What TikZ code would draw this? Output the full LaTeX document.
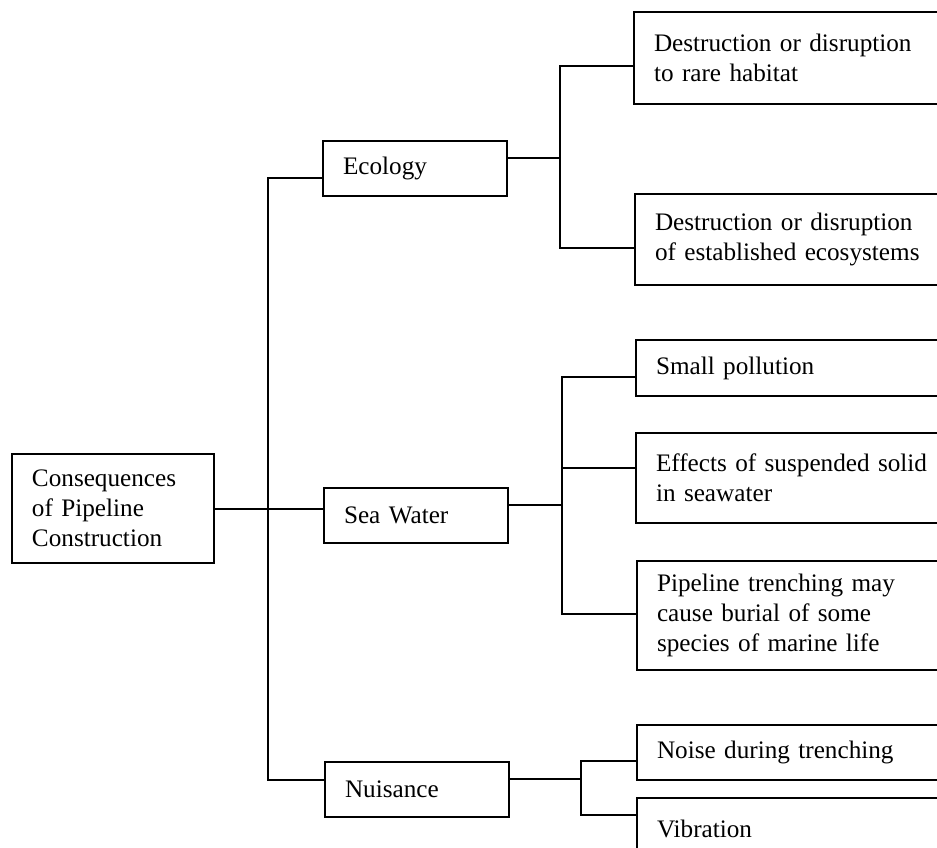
\documentclass[tikz,border=0pt]{standalone}
\usepackage{fontspec}
\setmainfont{Liberation Serif}

\begin{document}
\begin{tikzpicture}[x=0.5pt,y=-0.5pt,
  box/.style={draw, line width=1pt, anchor=north west, align=left,
    inner xsep=10pt, inner ysep=2pt, font=\fontsize{12.6pt}{15pt}\selectfont},
  leafbox/.style={box, text width=143.5pt},
  link/.style={line width=1pt}]

\useasboundingbox (0,0) rectangle (937,847);
\clip (0,0) rectangle (937,847);

% root
\node[box, text width=81pt, minimum height=54.5pt] (root) at (11,453)
{Consequences\\of Pipeline\\Construction};

% middle column
\node[box, text width=72pt, minimum height=27.5pt] (eco) at (322,140) {Ecology};
\node[box, text width=72pt, minimum height=27.5pt] (sea) at (323,487) {Sea Water};
\node[box, text width=72pt, minimum height=27.5pt] (nui) at (324,761) {Nuisance};

% right column
\node[leafbox, minimum height=46pt] (rare) at (633,11)
{Destruction or disruption\\to rare habitat};
\node[leafbox, minimum height=45.5pt] (estab) at (634,193)
{Destruction or disruption\\of established ecosystems};

\node[leafbox, minimum height=28pt] (small) at (635,339) {Small pollution};
\node[leafbox, minimum height=45pt] (effects) at (635,432)
{Effects of suspended solid\\in seawater};
\node[leafbox, minimum height=54.5pt] (burial) at (636,560)
{Pipeline trenching may\\cause burial of some\\species of marine life};

\node[leafbox, minimum height=27.5pt] (noise) at (636,724) {Noise during trenching};
\node[leafbox, minimum height=31pt] (vib) at (636,797) {Vibration};

% trunk
\coordinate (tTop) at (268,178);
\coordinate (tBot) at (268,780);
\draw[link] (tTop -| eco.west) -- (tTop) -- (tBot) -- (tBot -| nui.west);
\draw[link] (root.east) -- (root.east -| sea.west);

% ecology
\coordinate (ecoJ) at (560,158);
\coordinate (ecoT) at (560,66);
\coordinate (ecoB) at (560,248);
\draw[link] (ecoJ -| eco.east) -- (ecoJ);
\draw[link] (ecoT -| rare.west) -- (ecoT) -- (ecoB) -- (ecoB -| estab.west);

% sea water
\coordinate (seaJ) at (562,505);
\coordinate (seaT) at (562,377);
\coordinate (seaM) at (562,468);
\coordinate (seaB) at (562,614);
\draw[link] (seaJ -| sea.east) -- (seaJ);
\draw[link] (seaT -| small.west) -- (seaT) -- (seaB) -- (seaB -| burial.west);
\draw[link] (seaM) -- (seaM -| effects.west);

% nuisance
\coordinate (nuiJ) at (581,779);
\coordinate (nuiT) at (581,761);
\coordinate (nuiB) at (581,815);
\draw[link] (nuiJ -| nui.east) -- (nuiJ);
\draw[link] (nuiT -| noise.west) -- (nuiT) -- (nuiB) -- (nuiB -| vib.west);

\end{tikzpicture}
\end{document}
